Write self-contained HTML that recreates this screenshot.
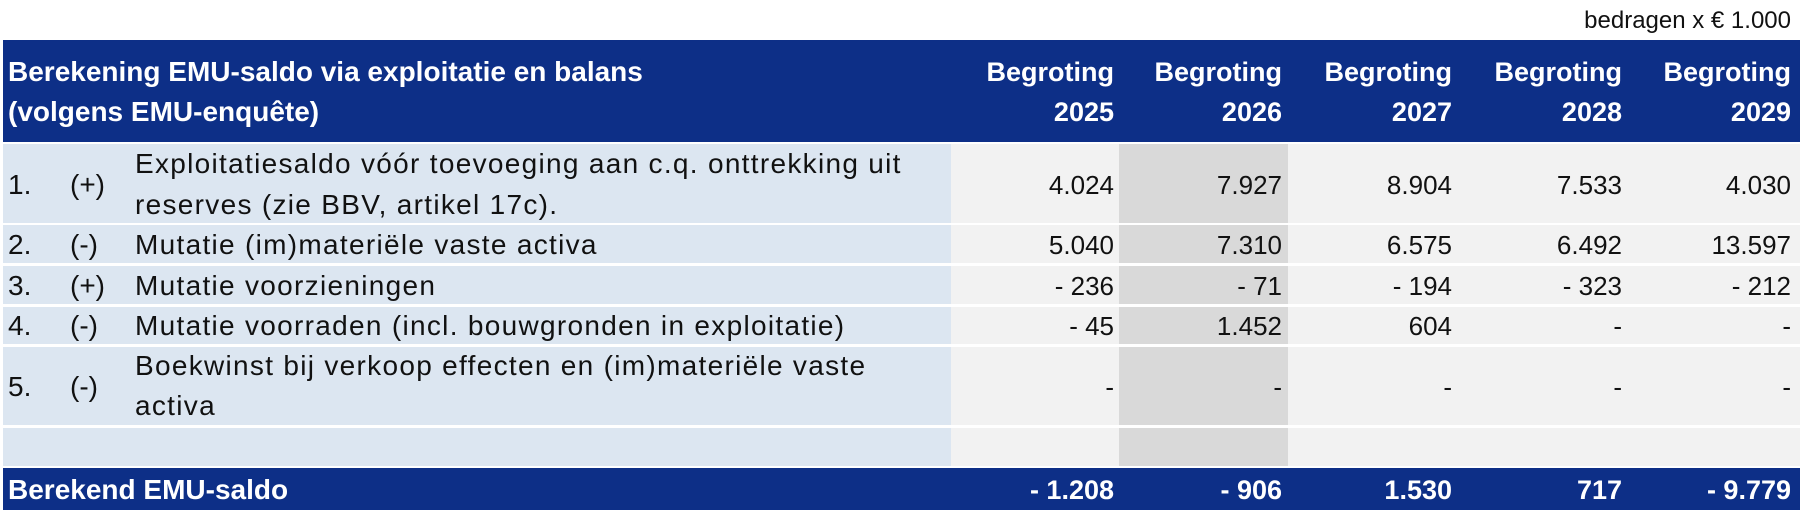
<!DOCTYPE html>
<html><head><meta charset="utf-8"><style>
body{margin:0;width:1800px;height:510px;background:#fff;position:relative;overflow:hidden;font-family:"Liberation Sans",Arial,sans-serif;font-size:28px;color:#111}
.a{position:absolute}
.nav{background:#0d2f87}
.lb{background:#dce6f1}
.gr{background:#f2f2f2}
.dk{background:#d9d9d9}
.t{position:absolute;white-space:nowrap;line-height:32px}
.L{letter-spacing:1.3px}
.w{color:#fff;font-weight:bold;font-size:28px}
.r{text-align:right;width:160px;font-size:26px}
.r.w{font-size:27px}
</style></head><body>
<div class="t" style="right:9px;top:5px;font-size:24px">bedragen x € 1.000</div>
<div class="a nav" style="left:3px;top:40px;width:1797px;height:102px"></div>
<div class="t w" style="left:8px;top:56px">Berekening EMU-saldo via exploitatie en balans</div>
<div class="t w" style="left:8px;top:96px">(volgens EMU-enquête)</div>

<div class="a lb" style="left:3px;top:144px;width:948px;height:79px"></div>
<div class="a lb" style="left:3px;top:225px;width:948px;height:38px"></div>
<div class="a lb" style="left:3px;top:266px;width:948px;height:38px"></div>
<div class="a lb" style="left:3px;top:307px;width:948px;height:37px"></div>
<div class="a lb" style="left:3px;top:347px;width:948px;height:78px"></div>
<div class="a lb" style="left:3px;top:428px;width:948px;height:38px"></div>
<div class="a gr" style="left:951px;top:144px;width:849px;height:79px"></div>
<div class="a gr" style="left:951px;top:225px;width:849px;height:38px"></div>
<div class="a gr" style="left:951px;top:266px;width:849px;height:38px"></div>
<div class="a gr" style="left:951px;top:307px;width:849px;height:37px"></div>
<div class="a gr" style="left:951px;top:347px;width:849px;height:78px"></div>
<div class="a gr" style="left:951px;top:428px;width:849px;height:38px"></div>
<div class="a dk" style="left:1119px;top:144px;width:169px;height:79px"></div>
<div class="a dk" style="left:1119px;top:225px;width:169px;height:38px"></div>
<div class="a dk" style="left:1119px;top:266px;width:169px;height:38px"></div>
<div class="a dk" style="left:1119px;top:307px;width:169px;height:37px"></div>
<div class="a dk" style="left:1119px;top:347px;width:169px;height:78px"></div>
<div class="a dk" style="left:1119px;top:428px;width:169px;height:38px"></div>
<div class="a nav" style="left:3px;top:468px;width:1797px;height:42px"></div>

<div class="t w r" style="left:954px;top:56px">Begroting</div><div class="t w r" style="left:954px;top:96px">2025</div>
<div class="t w r" style="left:1122px;top:56px">Begroting</div><div class="t w r" style="left:1122px;top:96px">2026</div>
<div class="t w r" style="left:1292px;top:56px">Begroting</div><div class="t w r" style="left:1292px;top:96px">2027</div>
<div class="t w r" style="left:1462px;top:56px">Begroting</div><div class="t w r" style="left:1462px;top:96px">2028</div>
<div class="t w r" style="left:1631px;top:56px">Begroting</div><div class="t w r" style="left:1631px;top:96px">2029</div>

<div class="t" style="left:8px;top:169px">1.</div><div class="t" style="left:70px;top:169px">(+)</div>
<div class="t L" style="left:135px;top:148px">Exploitatiesaldo vóór toevoeging aan c.q. onttrekking uit</div>
<div class="t L" style="left:135px;top:189px">reserves (zie BBV, artikel 17c).</div>
<div class="t" style="left:8px;top:229px">2.</div><div class="t" style="left:70px;top:229px">(-)</div><div class="t L" style="left:135px;top:229px">Mutatie (im)materiële vaste activa</div>
<div class="t" style="left:8px;top:270px">3.</div><div class="t" style="left:70px;top:270px">(+)</div><div class="t L" style="left:135px;top:270px">Mutatie voorzieningen</div>
<div class="t" style="left:8px;top:310px">4.</div><div class="t" style="left:70px;top:310px">(-)</div><div class="t L" style="left:135px;top:310px">Mutatie voorraden (incl. bouwgronden in exploitatie)</div>
<div class="t" style="left:8px;top:371px">5.</div><div class="t" style="left:70px;top:371px">(-)</div>
<div class="t L" style="left:135px;top:350px">Boekwinst bij verkoop effecten en (im)materiële vaste</div>
<div class="t L" style="left:135px;top:390px">activa</div>
<div class="t w" style="left:8px;top:474px">Berekend EMU-saldo</div>

<div class="t r" style="left:954px;top:169px">4.024</div><div class="t r" style="left:1122px;top:169px">7.927</div><div class="t r" style="left:1292px;top:169px">8.904</div><div class="t r" style="left:1462px;top:169px">7.533</div><div class="t r" style="left:1631px;top:169px">4.030</div>
<div class="t r" style="left:954px;top:229px">5.040</div><div class="t r" style="left:1122px;top:229px">7.310</div><div class="t r" style="left:1292px;top:229px">6.575</div><div class="t r" style="left:1462px;top:229px">6.492</div><div class="t r" style="left:1631px;top:229px">13.597</div>
<div class="t r" style="left:954px;top:270px">- 236</div><div class="t r" style="left:1122px;top:270px">- 71</div><div class="t r" style="left:1292px;top:270px">- 194</div><div class="t r" style="left:1462px;top:270px">- 323</div><div class="t r" style="left:1631px;top:270px">- 212</div>
<div class="t r" style="left:954px;top:310px">- 45</div><div class="t r" style="left:1122px;top:310px">1.452</div><div class="t r" style="left:1292px;top:310px">604</div><div class="t r" style="left:1462px;top:310px">-</div><div class="t r" style="left:1631px;top:310px">-</div>
<div class="t r" style="left:954px;top:371px">-</div><div class="t r" style="left:1122px;top:371px">-</div><div class="t r" style="left:1292px;top:371px">-</div><div class="t r" style="left:1462px;top:371px">-</div><div class="t r" style="left:1631px;top:371px">-</div>
<div class="t w r" style="left:954px;top:474px">- 1.208</div><div class="t w r" style="left:1122px;top:474px">- 906</div><div class="t w r" style="left:1292px;top:474px">1.530</div><div class="t w r" style="left:1462px;top:474px">717</div><div class="t w r" style="left:1631px;top:474px">- 9.779</div>
</body></html>
